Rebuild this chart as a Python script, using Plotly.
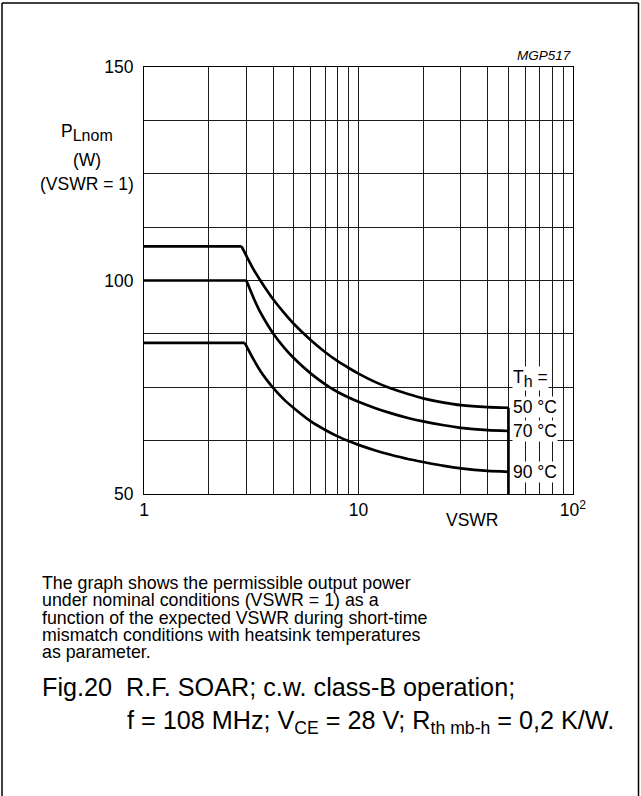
import plotly.graph_objects as go

# ---------------- data ----------------
vswr_50 = [1, 2.85, 3.0, 3.25, 3.5, 3.75, 4, 4.5, 5, 6, 7, 8, 9, 10, 12, 14, 17, 20, 25, 30, 40, 50]
p_50    = [108, 108, 105.8, 102.5, 99.9, 97.6, 95.6, 92.4, 89.8, 86.0, 83.2, 81.1, 79.5, 78.2,
           76.2, 74.8, 73.4, 72.4, 71.4, 70.8, 70.35, 70.2]

vswr_70 = [1, 3.0, 3.25, 3.5, 3.75, 4, 4.5, 5, 6, 7, 8, 9, 10, 12, 14, 17, 20, 25, 30, 40, 50]
p_70    = [100, 100, 95.8, 92.4, 89.8, 87.6, 84.3, 81.8, 78.2, 75.7, 73.9, 72.6, 71.6,
           70.1, 69.0, 67.8, 67.0, 66.1, 65.5, 64.95, 64.75]

vswr_90 = [1, 2.95, 3.25, 3.5, 3.75, 4, 4.5, 5, 6, 7, 8, 9, 10, 12, 14, 17, 20, 25, 30, 40, 50]
p_90    = [85.4, 85.4, 81.4, 78.7, 76.6, 74.85, 72.1, 70.1, 67.0, 65.0, 63.5, 62.4, 61.5,
           60.2, 59.25, 58.2, 57.5, 56.6, 56.0, 55.4, 55.2]

end_vswr = 50
series_labels = ["50 \u00b0C", "70 \u00b0C", "90 \u00b0C"]

x_tick_vals = [1, 2, 3, 4, 5, 6, 7, 8, 9, 10, 20, 30, 40, 50, 60, 70, 80, 90, 100]
x_tick_text = ["1", "", "", "", "", "", "", "", "", "10", "", "", "", "", "", "", "", "", "10<sup>2</sup>"]
y_tick_vals = [50, 62.5, 75, 87.5, 100, 112.5, 125, 137.5, 150]
y_tick_text = ["50", "", "", "", "100", "", "", "", "150"]
y_min, y_max = 50, 150

caption_lines = [
    "The graph shows the permissible output power",
    "under nominal conditions (VSWR = 1) as a",
    "function of the expected VSWR during short-time",
    "mismatch conditions with heatsink temperatures",
    "as parameter.",
]
fig_line1 = "Fig.20\u00a0\u00a0R.F. SOAR; c.w. class-B operation;"
fig_line2 = "f = 108 MHz; V<sub>CE</sub> = 28 V; R<sub>th mb-h</sub> = 0,2 K/W."

# ---------------- layout geometry ----------------
W, H = 641, 796
ML, MR, MT, MB = 144, 68, 67, 302
PW, PH = W - ML - MR, H - MT - MB

def px(x):
    return (x - ML) / PW

def py(y):
    return (H - MB - y) / PH

FONT = "Liberation Sans, Arial, Helvetica, sans-serif"
LW = 2.7
FS = 17.5

fig = go.Figure()
for xs, ys in [(vswr_50, p_50), (vswr_70, p_70), (vswr_90, p_90)]:
    fig.add_trace(go.Scatter(x=xs[:2], y=ys[:2], mode="lines",
                             line=dict(color="black", width=LW), hoverinfo="skip"))
    fig.add_trace(go.Scatter(x=xs[1:], y=ys[1:], mode="lines",
                             line=dict(color="black", width=LW, shape="spline", smoothing=0.6),
                             hoverinfo="skip"))
fig.add_trace(go.Scatter(x=[end_vswr, end_vswr], y=[p_50[-1], y_min], mode="lines",
                         line=dict(color="black", width=LW), hoverinfo="skip"))

ann = []
ann.append(dict(x=px(573), y=py(56), text="MGP517", xanchor="right", yanchor="middle",
                font=dict(size=13.5, style="italic")))
ann.append(dict(x=px(87), y=py(133), text="P<sub><span style='font-size:16px'>Lnom</span></sub>",
                xanchor="center", yanchor="middle", font=dict(size=FS)))
ann.append(dict(x=px(87), y=py(160), text="(W)", xanchor="center", yanchor="middle",
                font=dict(size=FS)))
ann.append(dict(x=px(87), y=py(184), text="(VSWR = 1)", xanchor="center", yanchor="middle",
                font=dict(size=FS)))
ann.append(dict(x=px(472), y=py(520), text="VSWR", xanchor="center", yanchor="middle",
                font=dict(size=FS)))
ann.append(dict(x=px(512), y=py(379), text="T<sub><span style='font-size:16px'>h</span></sub> =",
                xanchor="left", yanchor="middle", font=dict(size=FS), bgcolor="white", borderpad=0))
for lbl, yy in zip(series_labels, [406.5, 431, 472]):
    ann.append(dict(x=px(512), y=py(yy), text=lbl, xanchor="left", yanchor="middle",
                    font=dict(size=FS), bgcolor="white", borderpad=0))
for i, line in enumerate(caption_lines):
    ann.append(dict(x=px(40), y=py(583 + i * 17.3), text=line, xanchor="left", yanchor="middle",
                    font=dict(size=17.8)))
ann.append(dict(x=px(40), y=py(687), text=fig_line1, xanchor="left", yanchor="middle",
                font=dict(size=25.2)))
ann.append(dict(x=px(125), y=py(722), text=fig_line2, xanchor="left", yanchor="middle",
                font=dict(size=25.2)))
for a in ann:
    a.update(xref="paper", yref="paper", showarrow=False)

frame = dict(type="line", xref="paper", yref="paper", line=dict(color="black", width=1.5))
shapes = [
    dict(frame, x0=px(2), x1=px(2), y0=py(3), y1=py(H + 5)),
    dict(frame, x0=px(2), x1=px(638.5), y0=py(3), y1=py(3)),
    dict(frame, x0=px(638.5), x1=px(638.5), y0=py(3), y1=py(H + 5)),
]

fig.update_layout(
    width=W, height=H,
    margin=dict(l=ML, r=MR, t=MT, b=MB, pad=0),
    paper_bgcolor="white", plot_bgcolor="white",
    font=dict(family=FONT, color="black", size=FS),
    showlegend=False, hovermode=False,
    annotations=ann, shapes=shapes,
)
fig.update_xaxes(type="log", range=[0, 2], tickvals=x_tick_vals, ticktext=x_tick_text,
                 showgrid=True, gridcolor="#1a1a1a", gridwidth=1, zeroline=False,
                 showline=True, linecolor="black", linewidth=1, mirror=True,
                 ticks="outside", ticklen=0, tickcolor="rgba(0,0,0,0)",
                 tickfont=dict(size=FS))
fig.update_yaxes(range=[y_min, y_max], tickvals=y_tick_vals, ticktext=y_tick_text,
                 showgrid=True, gridcolor="#1a1a1a", gridwidth=1, zeroline=False,
                 showline=True, linecolor="black", linewidth=1, mirror=True,
                 ticks="outside", ticklen=6, tickcolor="rgba(0,0,0,0)",
                 tickfont=dict(size=FS))

fig.write_html("out.html", config={"displayModeBar": False},
               post_script="document.body.style.margin='0';document.body.style.overflow='hidden';")
